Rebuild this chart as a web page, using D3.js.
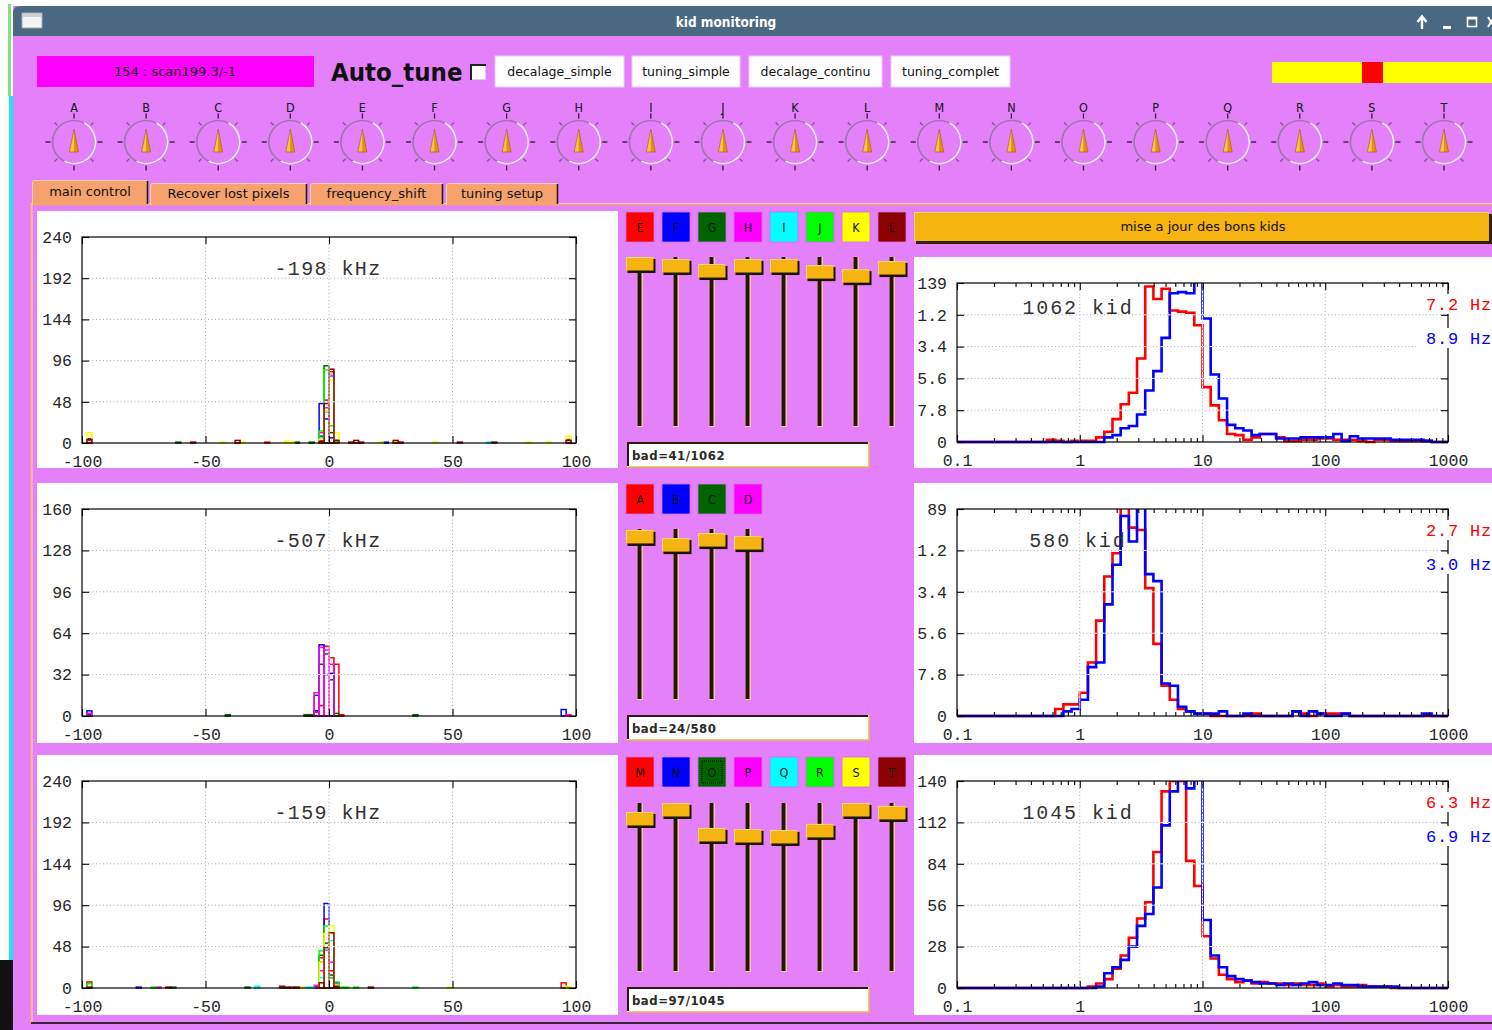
<!DOCTYPE html>
<html>
<head>
<meta charset="utf-8">
<title>kid monitoring</title>
<script src="https://cdn.jsdelivr.net/npm/d3@7/dist/d3.min.js"></script>
<style>
  html, body { margin: 0; padding: 0; background: #ffffff; overflow: hidden; }
  svg { display: block; }
</style>
</head>
<body>
<svg id="screen" width="1492" height="1030"></svg>
<script>
// ---------------- data ----------------
const windowTitle = "kid monitoring";
const scanLabel = "154 : scan199.3/-1";
const actionButtons = ["decalage_simple", "tuning_simple", "decalage_continu", "tuning_complet"];
const knobNames = ["A","B","C","D","E","F","G","H","I","J","K","L","M","N","O","P","Q","R","S","T"];
const tabNames = ["main control", "Recover lost pixels", "frequency_shift", "tuning setup"];
const updateLabel = "mise a jour des bons kids";

const groupNames = [
  ["E","F","G","H","I","J","K","L"],
  ["A","B","C","D"],
  ["M","N","O","P","Q","R","S","T"]
];
const channelColors = ["#ff0000","#0000ff","#006400","#ff00ff","#00ffff","#00ff00","#ffff00","#8b0000"];
// slider levels, 0 = bottom of travel, 100 = top
const sliderLevels = [
  [100, 98.7, 95.5, 98.7, 98.7, 94.8, 92.2, 97.4],
  [99.4, 94.2, 97.4, 95.5],
  [94.2, 100, 83.9, 83.2, 82.6, 86.5, 100, 98.1]
];
const shiftKHz = [-198, -507, -159];
const badKids = [41, 24, 97];
const totalKids = [1062, 580, 1045];
const noiseHzRed = [7.2, 2.7, 6.3];
const noiseHzBlue = [8.9, 3.0, 6.9];
const shiftYMax = [240, 160, 240];
const noiseYMax = [139, 89, 140];
const shiftXTicks = [-100, -50, 0, 50, 100];
const noiseXTicks = [0.1, 1, 10, 100, 1000];

// frequency-shift histograms per channel: [bin left edge in kHz (2 kHz bins), count]
const shiftTop = [
  [[-26,1],[-4,3],[-2,50],[0,83],[2,2]],
  [[-4,46],[-2,28],[0,6],[2,2],[22,1]],
  [[-98,5],[-62,1],[-14,1],[-8,1],[-4,8],[-2,90],[0,12],[2,3],[96,4]],
  [[-98,3],[-4,12],[-2,41],[0,78],[2,1],[96,3]],
  [[-4,6],[-2,36],[0,80],[2,1],[64,1]],
  [[-4,14],[-2,85],[0,20],[2,2]],
  [[-98,12],[-44,1],[-36,1],[-18,2],[-16,1],[-4,4],[-2,38],[0,73],[2,12],[20,1],[26,2],[42,1],[80,1],[88,1],[96,8]],
  [[-98,4],[-56,1],[-38,3],[-4,2],[-2,46],[0,86],[2,3],[8,1],[10,3],[12,1],[26,3],[28,1],[52,1],[66,1],[96,3]]
];
const shiftMid = [
  [[-10,1],[-8,1],[-6,3],[-4,8],[-2,54],[0,45],[2,40],[4,1]],
  [[-98,4],[-6,4],[-4,55],[-2,32],[0,33],[94,5]],
  [[-98,1],[-42,1],[-10,1],[-8,1],[-6,16],[-4,40],[-2,48],[0,28],[2,2],[34,1]],
  [[-98,2],[-6,18],[-4,53],[-2,51],[0,40],[96,1]]
];
const shiftBot = [
  [[-98,7],[-6,2],[-4,35],[-2,80],[0,20],[2,2],[94,6]],
  [[-78,1],[-4,30],[-2,98],[0,12],[2,6]],
  [[-64,1],[-34,1],[-4,38],[-2,52],[0,15],[2,3]],
  [[-70,1],[-6,3],[-4,20],[-2,44],[0,30],[2,2]],
  [[-30,2],[-10,1],[-8,1],[-4,12],[-2,45],[0,55],[2,2]],
  [[-98,5],[-72,1],[-4,43],[-2,72],[0,12],[2,7],[4,1],[6,1],[10,1],[34,1],[96,1]],
  [[-12,1],[-4,30],[-2,63],[0,72],[2,3],[48,1],[96,2]],
  [[-98,1],[-66,1],[-20,2],[-18,1],[-16,1],[-14,1],[-4,6],[-2,47],[0,64],[2,2],[16,1]]
];

// noise histograms: 60 log bins (15 per decade) from 0.1 Hz to 1000 Hz
const noiseRedTop = [0,0,0,0,0,0,0,0,0,0, 0,2,1,0,1,1,1,4,9,20, 33,43,73,136,125,134,115,114,113,102, 48,32,19,7,6,2,4,7,7,4, 1,1,2,2,3,3,2,2,2,1, 0,2,2,1,1,1,1,1,0,0];
const noiseBlueTop = [0,0,0,0,0,0,0,0,0,0, 0,0,0,0,0,0,0,0,4,6, 12,14,24,45,62,91,130,131,130,145, 108,59,38,15,12,10,6,7,7,3, 3,3,4,4,4,4,7,1,5,3, 3,3,3,2,2,2,2,1,0,0];
const noiseRedMid = [0,0,0,0,0,0,0,0,0,0, 0,0,3,5,5,10,23,41,60,70, 95,81,80,55,31,13,7,3,2,1, 1,0,0,0,0,0,1,0,0,0, 0,2,1,0,1,1,1,1,0,0, 0,0,0,0,0,0,0,0,0,0];
const noiseBlueMid = [0,0,0,0,0,0,0,0,0,0, 0,0,0,2,3,7,21,23,48,65, 86,75,95,61,58,14,13,4,2,1, 1,1,2,0,0,1,0,0,0,0, 0,2,0,2,1,0,0,1,0,0, 0,0,0,0,0,0,0,1,0,0];
const noiseRedBot = [0,0,0,0,0,0,0,0,0,0, 0,0,0,0,0,0,1,3,6,13, 22,34,47,58,92,133,140,140,86,69, 35,20,9,6,4,5,3,4,3,3, 2,3,2,2,3,1,2,1,1,2, 1,1,1,0,0,0,0,0,0,0];
const noiseBlueBot = [0,0,0,0,0,0,0,0,0,0, 0,0,0,0,0,0,0,1,10,14, 19,28,42,50,68,110,133,145,135,142, 46,22,14,8,6,5,4,3,3,2, 3,2,3,4,2,2,3,2,2,1, 1,1,1,1,0,0,0,0,0,0];

const shiftData = [shiftTop, shiftMid, shiftBot];
const noiseRed = [noiseRedTop, noiseRedMid, noiseRedBot];
const noiseBlue = [noiseBlueTop, noiseBlueMid, noiseBlueBot];

// ---------------- drawing ----------------
const W = 1492, H = 1030;
const BG = "#e580fb";
const UI = "'DejaVu Sans', sans-serif";
const UIC = "'DejaVu Sans Condensed', 'DejaVu Sans', sans-serif";
const MONO = "'Liberation Mono', 'DejaVu Sans Mono', monospace";
const svg = d3.select("#screen");
const defs = svg.append("defs");

// desktop edge behind the window
svg.append("rect").attr("width", W).attr("height", H).attr("fill", "#ffffff");
svg.append("rect").attr("x", 8).attr("y", 4).attr("width", 3).attr("height", 92).attr("fill", "#86e07a");
svg.append("rect").attr("x", 9).attr("y", 96).attr("width", 4).attr("height", 864).attr("fill", "#1ee4ee");
svg.append("rect").attr("x", 0).attr("y", 960).attr("width", 13).attr("height", 70).attr("fill", "#111111");

// window body and title bar
svg.append("rect").attr("x", 13).attr("y", 6).attr("width", W - 13).attr("height", H - 6).attr("fill", BG);
svg.append("path").attr("d", `M13,36 V13 Q13,6 20,6 H${W} V36 Z`).attr("fill", "#4b6883");
svg.append("rect").attr("x", 22).attr("y", 13).attr("width", 20).attr("height", 15)
  .attr("fill", "#f4f4f4").attr("stroke", "#9aa6b2").attr("stroke-width", 1);
svg.append("rect").attr("x", 23).attr("y", 14).attr("width", 18).attr("height", 3).attr("fill", "#c8d0d8");
svg.append("text").attr("x", 726).attr("y", 27).attr("text-anchor", "middle")
  .attr("font-family", UIC).attr("font-weight", "bold").attr("font-size", 13.5)
  .attr("fill", "#ffffff").text(windowTitle);
svg.append("path").attr("d", "M1422,29 V17 M1417.5,22 L1422,16.5 L1426.5,22")
  .attr("stroke", "#ffffff").attr("stroke-width", 2.4).attr("fill", "none");
svg.append("rect").attr("x", 1443).attr("y", 26).attr("width", 8).attr("height", 3).attr("fill", "#ffffff");
svg.append("rect").attr("x", 1467.5).attr("y", 17.5).attr("width", 9).attr("height", 9)
  .attr("fill", "none").attr("stroke", "#ffffff").attr("stroke-width", 1.6);
svg.append("rect").attr("x", 1467.5).attr("y", 17).attr("width", 9).attr("height", 2.5).attr("fill", "#ffffff");
svg.append("path").attr("d", "M1488,17 L1494,27 M1494,17 L1488,27")
  .attr("stroke", "#ffffff").attr("stroke-width", 2);

// top control row
svg.append("rect").attr("x", 37).attr("y", 56).attr("width", 277).attr("height", 31).attr("fill", "#ff00ff");
svg.append("text").attr("x", 175).attr("y", 76).attr("text-anchor", "middle")
  .attr("font-family", UI).attr("font-size", 13).attr("fill", "#111").text(scanLabel);
svg.append("text").attr("x", 331).attr("y", 81)
  .attr("font-family", UIC).attr("font-weight", "bold").attr("font-size", 25.5).attr("fill", "#111").text("Auto_tune");
svg.append("rect").attr("x", 470.5).attr("y", 64.5).attr("width", 15).attr("height", 15).attr("fill", "#ffffff");
svg.append("path").attr("d", "M471,80 V65 H486").attr("stroke", "#222").attr("stroke-width", 2).attr("fill", "none");

const buttonSpans = [[495, 624], [632, 740], [749, 882], [891, 1010]];
actionButtons.forEach((label, i) => {
  const [x0, x1] = buttonSpans[i];
  svg.append("rect").attr("x", x0).attr("y", 56).attr("width", x1 - x0).attr("height", 31)
    .attr("fill", "#ffffff").attr("stroke", "#f0c8f8").attr("stroke-width", 1);
  svg.append("text").attr("x", (x0 + x1) / 2).attr("y", 76).attr("text-anchor", "middle")
    .attr("font-family", UI).attr("font-size", 12.5).attr("fill", "#111").text(label);
});
svg.append("rect").attr("x", 1272).attr("y", 62).attr("width", W - 1272).attr("height", 21).attr("fill", "#ffff00");
svg.append("rect").attr("x", 1362).attr("y", 62).attr("width", 21).attr("height", 21).attr("fill", "#ff0000");

// knob row
const knobX = d3.scalePoint().domain(knobNames).range([74, 1444]);
knobNames.forEach(name => {
  const g = svg.append("g").attr("transform", `translate(${knobX(name)},142)`);
  g.append("text").attr("y", -30).attr("text-anchor", "middle")
    .attr("font-family", UIC).attr("font-size", 12.5).attr("fill", "#111").text(name);
  d3.range(8).forEach(k => {
    const a = k * Math.PI / 4, major = k % 2 === 0;
    const r1 = 23.5, r2 = major ? 28.5 : 27.5;
    g.append("line")
      .attr("x1", r1 * Math.sin(a)).attr("y1", -r1 * Math.cos(a))
      .attr("x2", r2 * Math.sin(a)).attr("y2", -r2 * Math.cos(a))
      .attr("stroke", major ? "#2a1a2a" : "#7e5488").attr("stroke-width", 1.3);
  });
  g.append("circle").attr("r", 21.5).attr("fill", "none").attr("stroke", "#a076ad").attr("stroke-width", 1.7);
  g.append("path").attr("d", d3.arc()({innerRadius: 20.7, outerRadius: 22.4, startAngle: 0.5, endAngle: 3.6}))
    .attr("fill", "#f6e8fa");
  g.append("path").attr("d", "M0,-13 L-4.5,10 L0,10 Z").attr("fill", "#f9c445");
  g.append("path").attr("d", "M0,-13 L4.5,10 L0,10 Z").attr("fill", "#e98f00");
  g.append("path").attr("d", "M0,-13 L4.5,10 L-4.5,10 Z").attr("fill", "none")
    .attr("stroke", "#8c5e28").attr("stroke-width", 0.6);
});

// notebook tabs and page border
const tabSpans = [[32, 148], [150, 307], [310, 443], [446, 558]];
svg.append("rect").attr("x", 31).attr("y", 203).attr("width", W - 31).attr("height", 1.2).attr("fill", "#fbd0c0");
svg.append("rect").attr("x", 31).attr("y", 204.2).attr("width", W - 31).attr("height", 1.3).attr("fill", "#f2a468");
svg.append("rect").attr("x", 30).attr("y", 203).attr("width", 1.5).attr("height", 820).attr("fill", "#f2a468");
svg.append("rect").attr("x", 31.5).attr("y", 203).attr("width", 1).attr("height", 820).attr("fill", "#fbd0c0");
tabNames.forEach((name, i) => {
  const [x0, x1] = tabSpans[i];
  const active = i === 0;
  const top = active ? 180 : 183;
  svg.append("path").attr("d", `M${x0},205 V${top + 3} Q${x0},${top} ${x0 + 3},${top} H${x1} V205 Z`)
    .attr("fill", "#f6a26e");
  svg.append("path").attr("d", `M${x0 + 0.5},205 V${top + 3} Q${x0 + 0.5},${top + 0.5} ${x0 + 3},${top + 0.5} H${x1 - 1}`)
    .attr("fill", "none").attr("stroke", "#fcd2b8").attr("stroke-width", 1);
  svg.append("line").attr("x1", x1 - 0.5).attr("y1", top + 1).attr("x2", x1 - 0.5).attr("y2", 204)
    .attr("stroke", "#2a1a10").attr("stroke-width", 1.6);
  svg.append("text").attr("x", (x0 + x1) / 2).attr("y", active ? 196 : 198).attr("text-anchor", "middle")
    .attr("font-family", UI).attr("font-size", 13).attr("fill", "#111").text(name);
});
svg.append("rect").attr("x", 31).attr("y", 1022).attr("width", W - 31).attr("height", 2).attr("fill", "#3a2436");

// ---------- rows ----------
const rows = [
  {leftPanel: [211, 468], leftFrame: [237, 443], rightPanel: [257, 468], rightFrame: [283, 442],
   boxTop: 212, track: [257, 427], field: [442, 467]},
  {leftPanel: [483, 743], leftFrame: [509, 716], rightPanel: [483, 743], rightFrame: [509, 716],
   boxTop: 484, track: [529, 700], field: [715, 740]},
  {leftPanel: [755, 1015], leftFrame: [781, 988], rightPanel: [755, 1015], rightFrame: [781, 988],
   boxTop: 757, track: [803, 972], field: [987, 1012]}
];

// dotted grid drawn in front of the histograms
function frontGrid(g, x1, y1, x2, y2) {
  g.append("line").attr("x1", x1).attr("y1", y1).attr("x2", x2).attr("y2", y2)
    .attr("stroke", "#ffffff").attr("stroke-width", 1).attr("stroke-dasharray", "2.5,1").attr("stroke-dashoffset", -1);
  g.append("line").attr("x1", x1).attr("y1", y1).attr("x2", x2).attr("y2", y2)
    .attr("stroke", "#a8a8a8").attr("stroke-width", 1).attr("stroke-dasharray", "1,2.5");
}

function styleAxis(sel) {
  sel.select(".domain").remove();
  sel.attr("font-family", MONO).attr("font-size", 16.5).attr("color", "#000");
  sel.selectAll("line").attr("stroke-width", 1.1);
  sel.selectAll("text").attr("fill", "#262626");
  return sel;
}

function drawShiftPlot(r) {
  const L = rows[r];
  const g = svg.append("g");
  g.append("rect").attr("x", 37).attr("y", L.leftPanel[0]).attr("width", 581)
    .attr("height", L.leftPanel[1] - L.leftPanel[0]).attr("fill", "#ffffff");
  const [top, bottom] = L.leftFrame;
  const x = d3.scaleLinear().domain([-100, 100]).range([82, 576]);
  const yMax = shiftYMax[r];
  const y = d3.scaleLinear().domain([0, yMax]).range([bottom, top]);
  const yTicks = d3.range(6).map(k => yMax * k / 5);

  // channel histograms as outlined boxes
  shiftData[r].forEach((bins, j) => {
    g.append("g").selectAll("rect").data(bins.filter(d => d[1] > 0)).join("rect")
      .attr("x", d => x(d[0])).attr("width", d => x(d[0] + 2) - x(d[0]))
      .attr("y", d => y(d[1])).attr("height", d => y(0) - y(d[1]))
      .attr("fill", "none").attr("stroke", channelColors[j]).attr("stroke-width", 1.5);
  });

  yTicks.slice(1, -1).forEach(v => frontGrid(g, 82, y(v), 576, y(v)));
  [-50, 0, 50].forEach(v => frontGrid(g, x(v), top, x(v), bottom));

  const fmt = d => String(d);
  styleAxis(g.append("g").attr("transform", `translate(0,${bottom})`)
    .call(d3.axisBottom(x).tickValues(shiftXTicks).tickSize(-7).tickPadding(12).tickFormat(fmt)));
  styleAxis(g.append("g").attr("transform", `translate(0,${top})`)
    .call(d3.axisTop(x).tickValues(shiftXTicks).tickSize(-7).tickFormat("")));
  styleAxis(g.append("g").attr("transform", "translate(82,0)")
    .call(d3.axisLeft(y).tickValues(yTicks).tickSize(-7).tickPadding(10).tickFormat(fmt)));
  styleAxis(g.append("g").attr("transform", "translate(576,0)")
    .call(d3.axisRight(y).tickValues(yTicks).tickSize(-7).tickFormat("")));
  g.append("rect").attr("x", 82).attr("y", top).attr("width", 494).attr("height", bottom - top)
    .attr("fill", "none").attr("stroke", "#000").attr("stroke-width", 1.2);

  g.append("text").attr("x", 328).attr("y", top + 38).attr("text-anchor", "middle")
    .attr("font-family", MONO).attr("font-size", 20).attr("letter-spacing", 1.4).attr("fill", "#333")
    .text(`${shiftKHz[r]} kHz`);
}

function drawSliders(r) {
  const L = rows[r];
  groupNames[r].forEach((name, j) => {
    const cx = 640 + j * 36;
    svg.append("rect").attr("x", cx - 14).attr("y", L.boxTop).attr("width", 28).attr("height", 30)
      .attr("fill", channelColors[j]).attr("stroke", "#d070e0").attr("stroke-width", 0.8);
    svg.append("text").attr("x", cx).attr("y", L.boxTop + 19.5).attr("text-anchor", "middle")
      .attr("font-family", UIC).attr("font-size", 12.5).attr("fill", "#111").text(name);
    if (name === "O") {
      svg.append("rect").attr("x", cx - 10).attr("y", L.boxTop + 4).attr("width", 20).attr("height", 22)
        .attr("fill", "none").attr("stroke", "#000").attr("stroke-width", 1).attr("stroke-dasharray", "1,1");
    }
    const [t0, t1] = L.track;
    const ty = d3.scaleLinear().domain([0, 100]).range([t1 - 14, t0])(sliderLevels[r][j]);
    svg.append("rect").attr("x", cx - 3).attr("y", t0).attr("width", 6).attr("height", t1 - t0).attr("fill", "#f9c79a");
    svg.append("rect").attr("x", cx - 2.5).attr("y", t0).attr("width", 4).attr("height", t1 - t0 - 1).attr("fill", "#22150a");
    svg.append("rect").attr("x", cx - 12.5).attr("y", ty + 2).attr("width", 28).attr("height", 14).attr("fill", "#1c1206");
    svg.append("rect").attr("x", cx - 14).attr("y", ty).attr("width", 27.5).attr("height", 13.5).attr("fill", "#f5b412");
    svg.append("path").attr("d", `M${cx - 13.5},${ty + 13} V${ty + 0.5} H${cx + 13}`)
      .attr("fill", "none").attr("stroke", "#fcd877").attr("stroke-width", 1);
  });
  const [f0, f1] = L.field;
  svg.append("rect").attr("x", 627).attr("y", f0).attr("width", 242).attr("height", f1 - f0).attr("fill", "#ffffff");
  svg.append("path").attr("d", `M628,${f1} H869 V${f0 + 0.5}`).attr("fill", "none").attr("stroke", "#f2b43c").attr("stroke-width", 1.6);
  svg.append("path").attr("d", `M628,${f1 - 1} V${f0 + 1} H868`).attr("fill", "none").attr("stroke", "#2a1a10").attr("stroke-width", 2);
  svg.append("text").attr("x", 632).attr("y", f0 + 17.5)
    .attr("font-family", UIC).attr("font-weight", "bold").attr("font-size", 13).attr("letter-spacing", 0.5)
    .attr("fill", "#2a2a2a").text(`bad=${badKids[r]}/${totalKids[r]}`);
}

function drawNoisePlot(r) {
  const L = rows[r];
  const [p0, p1] = L.rightPanel;
  const clipId = `panel-clip-${r}`;
  defs.append("clipPath").attr("id", clipId).append("rect")
    .attr("x", 914).attr("y", p0).attr("width", W - 914).attr("height", p1 - p0);
  const labelClip = `label-clip-${r}`;
  defs.append("clipPath").attr("id", labelClip).append("rect")
    .attr("x", 917).attr("y", p0).attr("width", 60).attr("height", p1 - p0);
  const g = svg.append("g").attr("clip-path", `url(#${clipId})`);
  g.append("rect").attr("x", 914).attr("y", p0).attr("width", W - 914).attr("height", p1 - p0).attr("fill", "#ffffff");

  const [top, bottom] = L.rightFrame;
  const x = d3.scaleLog().domain([0.1, 1000]).range([957, 1448]);
  const yMax = noiseYMax[r];
  const y = d3.scaleLinear().domain([0, yMax]).range([bottom, top]);
  const yTicks = d3.range(6).map(k => +(yMax * k / 5).toFixed(1));

  // step histograms
  const edges = d3.range(61).map(i => Math.pow(10, -1 + i / 15));
  const histClip = `hist-clip-${r}`;
  defs.append("clipPath").attr("id", histClip).append("rect")
    .attr("x", 955).attr("y", top).attr("width", 495).attr("height", bottom - top + 3);
  const step = d3.line().x(d => x(d[0])).y(d => y(d[1])).curve(d3.curveStepAfter);
  const hg = g.append("g").attr("clip-path", `url(#${histClip})`);
  [[noiseRed[r], "#ff0000"], [noiseBlue[r], "#0000ff"]].forEach(([vals, col]) => {
    const pts = edges.map((e, i) => [e, vals[Math.min(i, vals.length - 1)]]);
    hg.append("path").attr("d", step(pts)).attr("fill", "none")
      .attr("stroke", col).attr("stroke-width", 2.6).attr("stroke-linejoin", "miter");
  });

  yTicks.slice(1, -1).forEach(v => frontGrid(g, 957, y(v), 1448, y(v)));
  [1, 10, 100].forEach(v => frontGrid(g, x(v), top, x(v), bottom));

  const majors = noiseXTicks;
  const minors = [];
  [0.1, 1, 10, 100].forEach(dec => d3.range(2, 10).forEach(m => minors.push(dec * m)));
  const fmt = d => String(d);
  styleAxis(g.append("g").attr("transform", `translate(0,${bottom})`)
    .call(d3.axisBottom(x).tickValues(majors).tickSize(-7).tickPadding(12).tickFormat(fmt)));
  styleAxis(g.append("g").attr("transform", `translate(0,${bottom})`)
    .call(d3.axisBottom(x).tickValues(minors).tickSize(-4).tickFormat("")));
  styleAxis(g.append("g").attr("transform", `translate(0,${top})`)
    .call(d3.axisTop(x).tickValues(majors).tickSize(-7).tickFormat("")));
  styleAxis(g.append("g").attr("transform", `translate(0,${top})`)
    .call(d3.axisTop(x).tickValues(minors).tickSize(-4).tickFormat("")));
  // left axis labels run off the canvas edge, so they are clipped there
  styleAxis(g.append("g").attr("clip-path", `url(#${labelClip})`)
    .append("g").attr("transform", "translate(957,0)")
    .call(d3.axisLeft(y).tickValues(yTicks).tickSize(-7).tickPadding(10).tickFormat(fmt)));
  styleAxis(g.append("g").attr("transform", "translate(1448,0)")
    .call(d3.axisRight(y).tickValues(yTicks).tickSize(-7).tickFormat("")));
  g.append("rect").attr("x", 957).attr("y", top).attr("width", 491).attr("height", bottom - top)
    .attr("fill", "none").attr("stroke", "#000").attr("stroke-width", 1.2);

  g.append("text").attr("x", 1078).attr("y", top + 0.15 * (bottom - top) + 7).attr("text-anchor", "middle")
    .attr("font-family", MONO).attr("font-size", 20).attr("letter-spacing", 1.9).attr("fill", "#333")
    .text(`${totalKids[r]} kid`);

  // key with the median noise of each series
  [[noiseHzRed[r], "#ff0000", 27], [noiseHzBlue[r], "#0000ff", 61]].forEach(([v, col, dy]) => {
    g.append("rect").attr("x", 1416).attr("y", top + dy - 16).attr("width", W - 1416).attr("height", 20).attr("fill", "#ffffff");
    g.append("text").attr("x", 1426).attr("y", top + dy)
      .attr("font-family", MONO).attr("font-size", 17).attr("letter-spacing", 0.8).attr("fill", col)
      .text(`${v.toFixed(1)} Hz`);
  });
}

[0, 1, 2].forEach(r => { drawShiftPlot(r); drawSliders(r); drawNoisePlot(r); });

// update button above the first noise plot
svg.append("rect").attr("x", 916).attr("y", 214).attr("width", 576).attr("height", 30).attr("fill", "#2e2000");
svg.append("rect").attr("x", 914).attr("y", 212).attr("width", 575).attr("height", 29).attr("fill", "#f5b40f");
svg.append("path").attr("d", "M914.5,241 V212.5 H1489").attr("fill", "none").attr("stroke", "#fcd87a").attr("stroke-width", 1);
svg.append("text").attr("x", 1203).attr("y", 231).attr("text-anchor", "middle")
  .attr("font-family", UI).attr("font-size", 13).attr("fill", "#111").text(updateLabel);
</script>
</body>
</html>
